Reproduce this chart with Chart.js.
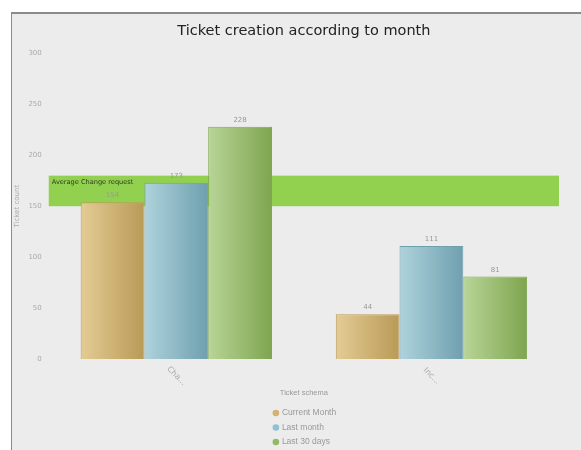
<!DOCTYPE html>
<html>
<head>
<meta charset="utf-8">
<script src="https://cdn.jsdelivr.net/npm/chart.js@4/dist/chart.umd.min.js"></script>
<style>
  body { margin: 0; background: #fff; }
  #panel {
    position: absolute; left: 11px; top: 12px; width: 570px; height: 438px;
    background: #ececec; border-left: 1px solid #8a8a8a; border-top: 2px solid #8a8a8a;
  }
</style>
</head>
<body>
<div id="panel"><canvas id="chart" width="569" height="436"></canvas></div>
<script>
// datos del gráfico
const categories = ['Change request', 'Incident'];
const seriesNames = ['Current Month', 'Last month', 'Last 30 days'];
const currentMonth = [154, 44];
const lastMonth = [173, 111];
const last30Days = [228, 81];
const yTicks = [0, 50, 100, 150, 200, 250, 300];
const avgBand = [150, 180];
const avgLabel = 'Average Change request';

// colores: claro (izquierda), oscuro (derecha), punto de leyenda
const palette = [
  ['#e3cc94', '#b99a57', '#d6b36d'],
  ['#aed3dc', '#6f9fae', '#8fc1d1'],
  ['#b8d597', '#7ea54f', '#92ba62']
];

const catPct = 0.75;

// degradado horizontal por barra, calculado desde la escala x
function barGradient(i) {
  return ctx => {
    const chart = ctx.chart;
    const xs = chart.scales.x;
    if (ctx.type !== 'data' || !xs || !xs.width) return palette[i][1];
    const catW = xs.width / categories.length;
    const barW = catW * catPct / 3;
    const left = xs.getPixelForValue(ctx.dataIndex) - catW * catPct / 2 + ctx.datasetIndex * barW;
    const g = chart.ctx.createLinearGradient(left, 0, left + barW, 0);
    g.addColorStop(0, palette[i][0]);
    g.addColorStop(1, palette[i][1]);
    return g;
  };
}

// banda de promedio detrás de las barras
const bandPlugin = {
  id: 'band',
  beforeDatasetsDraw(chart) {
    const { ctx, chartArea, scales } = chart;
    const top = scales.y.getPixelForValue(avgBand[1]);
    const bottom = scales.y.getPixelForValue(avgBand[0]);
    ctx.save();
    ctx.fillStyle = '#92d050';
    ctx.fillRect(chartArea.left, top, chartArea.right - chartArea.left, bottom - top);
    ctx.restore();
  },
  afterDatasetsDraw(chart) {
    const { ctx, chartArea, scales } = chart;
    ctx.save();
    // texto de la banda
    ctx.font = '6.6px "DejaVu Sans"';
    ctx.fillStyle = '#2f3a20';
    ctx.textBaseline = 'top';
    ctx.textAlign = 'left';
    ctx.fillText(avgLabel, chartArea.left + 3, scales.y.getPixelForValue(avgBand[1]) + 3);

    // valores encima de las barras
    ctx.font = '7px "DejaVu Sans"';
    ctx.fillStyle = '#999';
    ctx.textAlign = 'center';
    ctx.textBaseline = 'bottom';
    chart.data.datasets.forEach((ds, di) => {
      chart.getDatasetMeta(di).data.forEach((el, i) => {
        ctx.fillText(ds.data[i], el.x, el.y - 3);
      });
    });

    // etiquetas del eje x giradas
    ctx.fillStyle = '#aaa';
    ctx.font = '8px "DejaVu Sans"';
    ctx.textBaseline = 'middle';
    categories.forEach((c, i) => {
      ctx.save();
      ctx.translate(scales.x.getPixelForValue(i), chartArea.bottom + 17);
      ctx.rotate(Math.PI / 4);
      ctx.fillText(c.slice(0, 3) + '...', 0, 0);
      ctx.restore();
    });
    ctx.restore();
  },
  afterDraw(chart) {
    // leyenda vertical
    const { ctx, chartArea } = chart;
    const cx = (chartArea.left + chartArea.right) / 2;
    ctx.save();
    ctx.font = '8.5px "Liberation Sans"';
    ctx.textBaseline = 'middle';
    ctx.textAlign = 'left';
    seriesNames.forEach((name, i) => {
      const y = chartArea.bottom + 54 + i * 14.5;
      const x = cx - 28;
      ctx.beginPath();
      ctx.arc(x, y, 3.3, 0, Math.PI * 2);
      ctx.fillStyle = palette[i][2];
      ctx.fill();
      ctx.fillStyle = '#999';
      ctx.fillText(name, x + 6, y);
    });
    ctx.restore();
  }
};

const values = [currentMonth, lastMonth, last30Days];

new Chart(document.getElementById('chart'), {
  type: 'bar',
  data: {
    labels: categories,
    datasets: values.map((v, i) => ({
      label: seriesNames[i],
      data: v,
      backgroundColor: barGradient(i),
      borderColor: palette[i][1],
      borderWidth: 1,
      barPercentage: 1,
      categoryPercentage: catPct
    }))
  },
  options: {
    responsive: false,
    animation: false,
    layout: { padding: { left: 0, right: 22, top: 0, bottom: 53 } },
    plugins: {
      legend: { display: false },
      tooltip: { enabled: false },
      title: {
        display: true,
        fullSize: false,
        text: 'Ticket creation according to month',
        color: '#222',
        font: { family: 'DejaVu Sans', size: 14.5, weight: 'normal' },
        padding: { top: 9, bottom: 13 }
      }
    },
    scales: {
      x: {
        grid: { display: false, drawTicks: false },
        border: { display: false },
        ticks: { display: false },
        title: {
          display: true,
          text: 'Ticket schema',
          color: '#999',
          font: { family: 'Liberation Sans', size: 7.5 },
          padding: { top: 29, bottom: 0 }
        }
      },
      y: {
        min: 0,
        max: 300,
        afterBuildTicks: axis => { axis.ticks = yTicks.map(v => ({ value: v })); },
        grid: { display: false, drawTicks: false },
        border: { display: false },
        ticks: { color: '#aaa', font: { family: 'DejaVu Sans', size: 7 }, padding: 7 },
        title: {
          display: true,
          text: 'Ticket count',
          color: '#aaa',
          font: { family: 'DejaVu Sans', size: 7 },
          padding: { top: 1, bottom: 0 }
        }
      }
    }
  },
  plugins: [bandPlugin]
});
</script>
</body>
</html>
